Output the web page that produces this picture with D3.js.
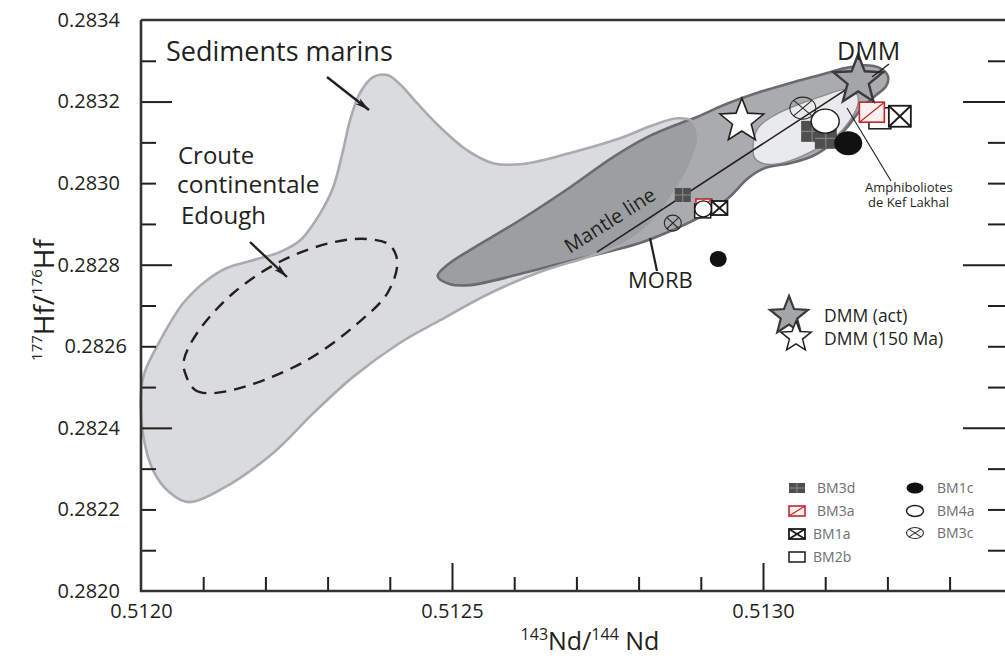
<!DOCTYPE html>
<html><head><meta charset="utf-8">
<script src="https://cdn.jsdelivr.net/npm/d3@7"></script>
<style>
html,body{margin:0;padding:0;background:#fff;}
svg{display:block;font-family:"Open Sans",sans-serif;}
</style></head>
<body>
<svg id="chart" width="1005" height="662"></svg>
<script>
// ---------- DATA (143Nd/144Nd , 177Hf/176Hf) ----------
const xLabelTicks = [0.5120, 0.5125, 0.5130];
const xMajorTicks = [0.5125, 0.5130];
const xMinorTicks = [0.5121, 0.5122, 0.5123, 0.5124, 0.5126, 0.5127, 0.5128, 0.5129, 0.5131, 0.5132, 0.5133];
const yLabelTicks = [0.2820, 0.2822, 0.2824, 0.2826, 0.2828, 0.2830, 0.2832, 0.2834];
const yLongTicks = [0.2824, 0.2828, 0.2832];
const yShortTicks = [0.2821, 0.2822, 0.2823, 0.2825, 0.2826, 0.2827, 0.2829, 0.2830, 0.2831, 0.2833];

// Sediments marins field outline
const sedimentsNd = [0.51200,0.512003,0.512019,0.512047,0.512076,0.512132,0.512212,0.512277,0.512341,0.512416,0.512481,0.512561,0.512641,0.512722,0.512778,0.512822,0.512855,0.512883,0.512896,0.512886,0.512862,0.512823,0.512770,0.512690,0.512614,0.512566,0.512524,0.512481,0.512444,0.512416,0.512396,0.512373,0.512352,0.512336,0.512325,0.512309,0.512288,0.512256,0.512223,0.512180,0.512138,0.512106,0.512068,0.512031,0.512006];
const sedimentsHf = [0.282485,0.282387,0.282297,0.282240,0.282218,0.282252,0.282338,0.282436,0.282525,0.282608,0.282664,0.282730,0.282782,0.282821,0.282853,0.282904,0.282971,0.283044,0.283110,0.283152,0.283159,0.283142,0.283110,0.283074,0.283047,0.283049,0.283081,0.283137,0.283196,0.283243,0.283265,0.283260,0.283221,0.283154,0.283081,0.282990,0.282926,0.282860,0.282831,0.282811,0.282792,0.282762,0.282706,0.282615,0.282537];

// Croute continentale Edough (dashed field)
const crouteNd = [0.512071,0.512087,0.512114,0.512175,0.512267,0.512341,0.512396,0.512412,0.512400,0.512363,0.512309,0.512228,0.512148,0.512090,0.512069];
const crouteHf = [0.282534,0.282493,0.282485,0.282505,0.282566,0.282647,0.282730,0.282806,0.282848,0.282863,0.282855,0.282811,0.282730,0.282632,0.282566];

// MORB field
const morbNd = [0.512477,0.512497,0.512529,0.512609,0.512690,0.512749,0.512802,0.512855,0.512899,0.512944,0.512976,0.513003,0.513043,0.513079,0.513111,0.513137,0.513159,0.513182,0.513198,0.513201,0.513188,0.513164,0.513132,0.513096,0.513043,0.512990,0.512936,0.512894,0.512867,0.512814,0.512759,0.512690,0.512609,0.512529,0.512494];
const morbHf = [0.282772,0.282752,0.282750,0.282777,0.282809,0.282831,0.282853,0.282885,0.282917,0.282963,0.283012,0.283037,0.283049,0.283066,0.283098,0.283140,0.283184,0.283216,0.283238,0.283262,0.283282,0.283289,0.283282,0.283267,0.283245,0.283221,0.283191,0.283162,0.283147,0.283113,0.283064,0.282990,0.282909,0.282836,0.282801];

// Amphiboliotes de Kef Lakhal field
const amphNd = [0.512984,0.512992,0.513019,0.513059,0.513100,0.513132,0.513150,0.513153,0.513140,0.513116,0.513076,0.513035,0.513003,0.512987];
const amphHf = [0.283091,0.283135,0.283167,0.283194,0.283216,0.283230,0.283221,0.283196,0.283154,0.283113,0.283076,0.283051,0.283047,0.283061];

// Mantle line end points
const mantleNd = [0.512733, 0.513156];
const mantleHf = [0.282831, 0.283252];

// DMM
const dmmLabels = ["DMM (act)", "DMM (150 Ma)"];
const dmmNd = [0.513153, 0.512966];
const dmmHf = [0.283252, 0.283152];

// Samples (two sets: near MORB and near DMM), drawn in list order
const sampleIdsLow = ["BM3c","BM3d","BM2b","BM3a","BM4a","BM1a","BM1c"];
const sampleNdLow  = [0.512855,0.512871,0.512903,0.512905,0.512904,0.512930,0.512928];
const sampleHfLow  = [0.282902,0.282971,0.282932,0.282944,0.282937,0.282939,0.282814];
const sampleIdsHigh = ["BM3c","BM3d","BM3d","BM4a","BM1c","BM2b","BM3a","BM1a"];
const sampleNdHigh  = [0.513064,0.513079,0.513101,0.513100,0.513137,0.513188,0.513175,0.513220];
const sampleHfHigh  = [0.283184,0.283127,0.283110,0.283152,0.283098,0.283159,0.283174,0.283164];

const legendLeft = ["BM3d","BM3a","BM1a","BM2b"];
const legendRight = ["BM1c","BM4a","BM3c"];

// ---------- DRAW ----------
const svg = d3.select("#chart");
const x = d3.scaleLinear().domain([0.5120, 0.5130]).range([141, 763]);
const y = d3.scaleLinear().domain([0.2820, 0.2834]).range([591, 20]);
const zip = (a, b) => a.map((v, i) => [v, b[i]]);
const closed = d3.line().x(d => x(d[0])).y(d => y(d[1])).curve(d3.curveCatmullRomClosed.alpha(0.5));

const defs = svg.append("defs");
defs.append("marker").attr("id","arr").attr("viewBox","0 0 14 8").attr("refX",14).attr("refY",4)
  .attr("markerWidth",14).attr("markerHeight",8).attr("markerUnits","userSpaceOnUse").attr("orient","auto")
  .append("path").attr("d","M0,0.5 L14,4 L0,7.5 L3,4 Z").attr("fill","#231f20");

// Sediments fill
svg.append("path").datum(zip(sedimentsNd, sedimentsHf)).attr("d", closed)
  .attr("fill", "#dadbdd").attr("stroke", "none");
// Croute dashed
svg.append("path").datum(zip(crouteNd, crouteHf)).attr("d", closed)
  .attr("fill", "none").attr("stroke", "#231f20").attr("stroke-width", 2.4).attr("stroke-dasharray", "12,8");
// MORB
svg.append("path").datum(zip(morbNd, morbHf)).attr("d", closed)
  .attr("fill", "rgb(125,127,130)").attr("fill-opacity", 0.66)
  .attr("stroke", "#6a6b6e").attr("stroke-width", 2.6);
// Sediments outline on top
svg.append("path").datum(zip(sedimentsNd, sedimentsHf)).attr("d", closed)
  .attr("fill", "none").attr("stroke", "#a9abae").attr("stroke-width", 2.6);
// Amphibolites field
svg.append("path").datum(zip(amphNd, amphHf)).attr("d", closed)
  .attr("fill", "#e9eaeb").attr("stroke", "#8c8c8e").attr("stroke-width", 1.4);
// Mantle line
svg.append("line").attr("x1", x(mantleNd[0])).attr("y1", y(mantleHf[0]))
  .attr("x2", x(mantleNd[1])).attr("y2", y(mantleHf[1]))
  .attr("stroke", "#231f20").attr("stroke-width", 1.6);

function starPath(cx, cy, R, ratio) {
  const pts = [];
  for (let i = 0; i < 10; i++) {
    const a = -Math.PI / 2 + i * Math.PI / 5;
    const r = i % 2 === 0 ? R : R * ratio;
    pts.push([cx + r * Math.cos(a), cy + r * Math.sin(a)]);
  }
  return "M" + pts.map(p => p.join(",")).join("L") + "Z";
}

function drawMarker(g, id, cx, cy, w, h) {
  if (id === "BM3d") {
    g.append("rect").attr("x", cx - w/2).attr("y", cy - h/2).attr("width", w).attr("height", h).attr("fill", "#4f4f50");
    g.append("line").attr("x1", cx).attr("x2", cx).attr("y1", cy - h/2).attr("y2", cy + h/2).attr("stroke", "#8d8d8f").attr("stroke-width", 1);
    g.append("line").attr("x1", cx - w/2).attr("x2", cx + w/2).attr("y1", cy).attr("y2", cy).attr("stroke", "#8d8d8f").attr("stroke-width", 1);
  } else if (id === "BM3a") {
    g.append("rect").attr("x", cx - w/2).attr("y", cy - h/2).attr("width", w).attr("height", h).attr("fill", "#fbf0f0").attr("stroke", "#c1272d").attr("stroke-width", 1.6);
    g.append("line").attr("x1", cx - w/2).attr("y1", cy + h/2).attr("x2", cx + w/2).attr("y2", cy - h/2).attr("stroke", "#c1272d").attr("stroke-width", 1.2);
  } else if (id === "BM1a") {
    g.append("rect").attr("x", cx - w/2).attr("y", cy - h/2).attr("width", w).attr("height", h).attr("fill", "#fff").attr("stroke", "#1a1a1a").attr("stroke-width", 1.8);
    g.append("line").attr("x1", cx - w/2).attr("y1", cy - h/2).attr("x2", cx + w/2).attr("y2", cy + h/2).attr("stroke", "#1a1a1a").attr("stroke-width", 1.8);
    g.append("line").attr("x1", cx - w/2).attr("y1", cy + h/2).attr("x2", cx + w/2).attr("y2", cy - h/2).attr("stroke", "#1a1a1a").attr("stroke-width", 1.8);
  } else if (id === "BM2b") {
    g.append("rect").attr("x", cx - w/2).attr("y", cy - h/2).attr("width", w).attr("height", h).attr("fill", "#fff").attr("stroke", "#1a1a1a").attr("stroke-width", 1.5);
  } else if (id === "BM1c") {
    g.append("ellipse").attr("cx", cx).attr("cy", cy).attr("rx", w/2).attr("ry", h/2).attr("fill", "#111");
  } else if (id === "BM4a") {
    g.append("ellipse").attr("cx", cx).attr("cy", cy).attr("rx", w/2).attr("ry", h/2).attr("fill", "#fff").attr("stroke", "#1a1a1a").attr("stroke-width", 1.4);
  } else if (id === "BM3c") {
    g.append("ellipse").attr("cx", cx).attr("cy", cy).attr("rx", w/2).attr("ry", h/2).attr("fill", "none").attr("stroke", "#2a2a2a").attr("stroke-width", 1.1);
    const dx = w/2 * 0.707, dy = h/2 * 0.707;
    g.append("line").attr("x1", cx - dx).attr("y1", cy - dy).attr("x2", cx + dx).attr("y2", cy + dy).attr("stroke", "#2a2a2a").attr("stroke-width", 1.1);
    g.append("line").attr("x1", cx - dx).attr("y1", cy + dy).attr("x2", cx + dx).attr("y2", cy - dy).attr("stroke", "#2a2a2a").attr("stroke-width", 1.1);
  }
}
const isRound = id => id === "BM1c" || id === "BM4a" || id === "BM3c";
const sizeLow = {sq: [16, 14], rd: [17, 16]};
const sizeHigh = {sq: [22, 21], rd: [28, 24]};

// DMM 150 Ma star (white)
svg.append("path").attr("d", starPath(x(dmmNd[1]), y(dmmHf[1]), 23, 0.43))
  .attr("fill", "#fff").attr("stroke", "#231f20").attr("stroke-width", 1.6);

const gLow = svg.append("g");
sampleIdsLow.forEach((id, i) => {
  const s = isRound(id) ? sizeLow.rd : sizeLow.sq;
  drawMarker(gLow, id, x(sampleNdLow[i]), y(sampleHfLow[i]), s[0], s[1]);
});
const gHigh = svg.append("g");
sampleIdsHigh.forEach((id, i) => {
  let s = isRound(id) ? sizeHigh.rd : sizeHigh.sq;
  if (id === "BM3c") s = [26, 22];
  if (id === "BM3a") s = [25, 20];
  drawMarker(gHigh, id, x(sampleNdHigh[i]), y(sampleHfHigh[i]), s[0], s[1]);
});

// DMM actual star (grey)
svg.append("path").attr("d", starPath(x(dmmNd[0]), y(dmmHf[0]), 26, 0.43))
  .attr("fill", "#a3a5a8").attr("stroke", "#3a3a3c").attr("stroke-width", 2.4);

// ---------- AXES ----------
const axisColor = "#231f20";
function styleAxis(g) { g.select(".domain").remove(); g.selectAll("line").attr("stroke", axisColor).attr("stroke-width", 2); }
svg.append("g").attr("transform", "translate(0,591)").call(d3.axisBottom(x).tickValues(xMinorTicks).tickSize(-14).tickFormat("")).call(styleAxis);
svg.append("g").attr("transform", "translate(0,591)").call(d3.axisBottom(x).tickValues(xMajorTicks).tickSize(-28).tickFormat("")).call(styleAxis);
svg.append("g").attr("transform", "translate(141,0)").call(d3.axisLeft(y).tickValues(yShortTicks).tickSize(-15).tickFormat("")).call(styleAxis);
svg.append("g").attr("transform", "translate(141,0)").call(d3.axisLeft(y).tickValues(yLongTicks).tickSize(-31).tickFormat("")).call(styleAxis);
svg.append("g").attr("transform", "translate(1005,0)").call(d3.axisRight(y).tickValues(yShortTicks).tickSize(-17).tickFormat("")).call(styleAxis);
svg.append("g").attr("transform", "translate(1005,0)").call(d3.axisRight(y).tickValues(yLongTicks).tickSize(-42).tickFormat("")).call(styleAxis);

// frame
svg.append("path").attr("d", `M${x(0.5120)},${y(0.2834)}H1010M${x(0.5120)},${y(0.2834)}V${y(0.2820)}H1010`)
  .attr("fill", "none").attr("stroke", "#333334").attr("stroke-width", 2.6);

// tick labels
const fmt = d3.format(".4f");
const xl = svg.append("g").attr("transform", "translate(0,591)")
  .call(d3.axisBottom(x).tickValues(xLabelTicks).tickSize(0).tickPadding(13).tickFormat(fmt));
xl.select(".domain").remove();
xl.selectAll("text").attr("font-family", "Open Sans").attr("font-size", 20).attr("fill", axisColor);
const yl = svg.append("g").attr("transform", "translate(141,0)")
  .call(d3.axisLeft(y).tickValues(yLabelTicks).tickSize(0).tickPadding(21).tickFormat(fmt));
yl.select(".domain").remove();
yl.selectAll("text").attr("font-family", "Open Sans").attr("font-size", 20).attr("fill", axisColor)
  .attr("dx", d => Math.abs(d - 0.2826) < 1e-9 ? 7 : 0);

// axis titles
const xt = svg.append("text").attr("transform", "translate(590,650)").attr("text-anchor", "middle").attr("fill", axisColor);
xt.append("tspan").attr("font-size", 16).attr("dy", -10).text("143");
xt.append("tspan").attr("font-size", 25).attr("dy", 10).text("Nd/");
xt.append("tspan").attr("font-size", 16).attr("dy", -10).text("144");
xt.append("tspan").attr("font-size", 25).attr("dy", 10).text(" Nd");
const yt = svg.append("text").attr("transform", "translate(54,300) rotate(-90)").attr("text-anchor", "middle").attr("fill", axisColor);
yt.append("tspan").attr("font-size", 15).attr("dy", -12).text("177");
yt.append("tspan").attr("font-size", 28).attr("dy", 12).text("Hf/");
yt.append("tspan").attr("font-size", 15).attr("dy", -12).text("176");
yt.append("tspan").attr("font-size", 28).attr("dy", 12).text("Hf");

// ---------- ANNOTATIONS ----------
const txt = (s, px, py, size, extra) => {
  const t = svg.append("text").attr("x", px).attr("y", py).attr("font-size", size).attr("fill", "#231f20").text(s);
  if (extra) extra(t);
  return t;
};
txt("Sediments marins", 166, 61, 27);
txt("Croute", 178, 164, 24);
txt("continentale", 177, 193, 24.5);
txt("Edough", 181, 224, 24);
txt("DMM", 837, 60, 25);
txt("MORB", 628, 288, 22);
txt("Amphiboliotes", 865, 192, 13);
txt("de Kef Lakhal", 868, 207, 13);
txt("Mantle line", 0, 0, 20, t => t.attr("transform", "translate(570,254) rotate(-32.5)"));

const ln = (x1, y1, x2, y2, w, arrow) => {
  const l = svg.append("line").attr("x1", x1).attr("y1", y1).attr("x2", x2).attr("y2", y2)
    .attr("stroke", "#231f20").attr("stroke-width", w);
  if (arrow) l.attr("marker-end", "url(#arr)");
};
ln(327, 77, 369, 110, 2.4, true);
ln(250, 242, 287, 277, 2.4, true);
ln(650, 238, 657, 271, 2.2, false);
ln(847, 108, 891, 181, 1.1, false);
ln(872, 77, 889, 64, 1.4, false);

// DMM legend
svg.append("path").attr("d", starPath(789, 316, 20, 0.43)).attr("fill", "#a3a5a8").attr("stroke", "#3a3a3c").attr("stroke-width", 2.2);
svg.append("path").attr("d", starPath(796, 337, 16, 0.43)).attr("fill", "#fff").attr("stroke", "#231f20").attr("stroke-width", 1.5);
txt(dmmLabels[0], 824, 322, 17.5);
txt(dmmLabels[1], 824, 345, 17.5);

// sample legend
const legL = svg.append("g");
const legLy = [488, 511, 534, 557];
legendLeft.forEach((id, i) => {
  drawMarker(legL, id, 797, legLy[i], 16, 10);
  legL.append("text").attr("x", id === "BM1a" || id === "BM2b" ? 813 : 817).attr("y", legLy[i] + 5)
    .attr("font-size", 14).attr("fill", "#6d6e71").text(id);
});
const legRy = [488, 511, 533];
legendRight.forEach((id, i) => {
  drawMarker(legL, id, 915, legRy[i], 17, 11);
  legL.append("text").attr("x", 937).attr("y", legRy[i] + 5)
    .attr("font-size", 14).attr("fill", "#6d6e71").text(id);
});
</script>
</body></html>
